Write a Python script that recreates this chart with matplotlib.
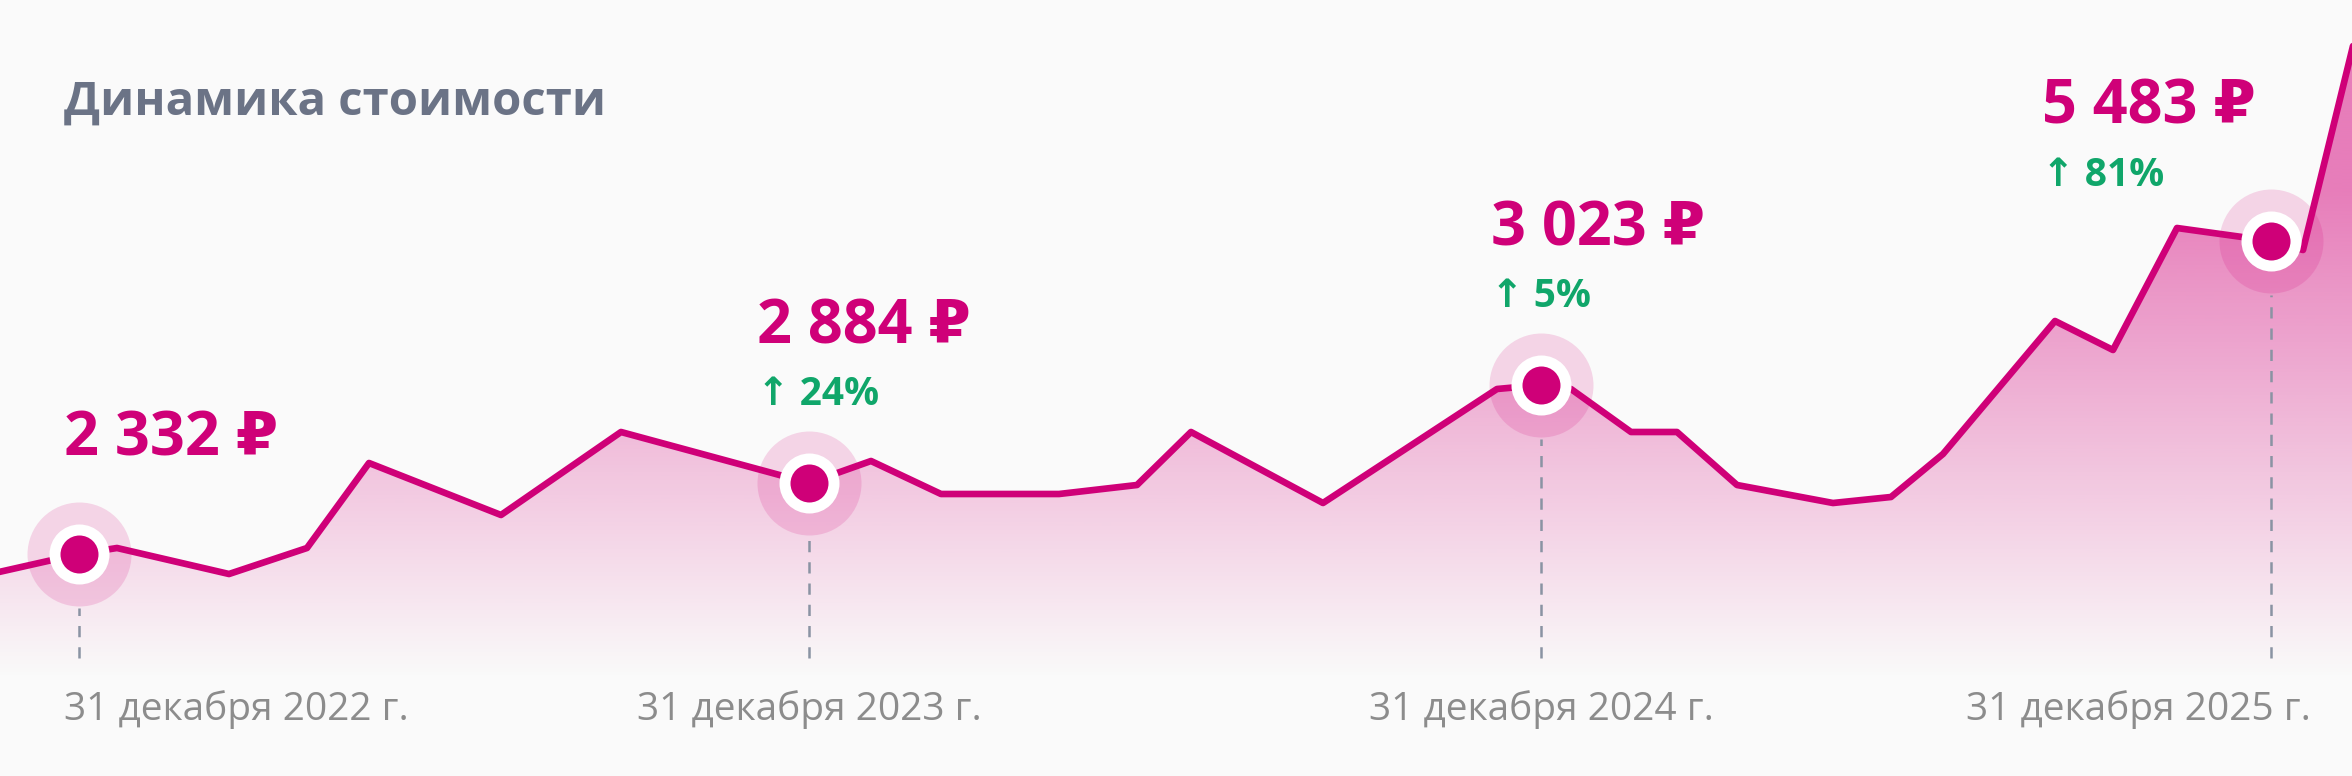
import numpy as np
import matplotlib
matplotlib.use("Agg")
import matplotlib.pyplot as plt
import matplotlib.dates as mdates
import matplotlib.transforms as mtransforms
from matplotlib.colors import to_rgb

plt.rcParams["font.family"] = ["Open Sans", "DejaVu Sans"]

# --- data (index level of the chart line, 0 = base of the fill) ---
dates = np.array([
    "2022-11-21", "2022-12-31", "2023-01-19", "2023-03-16", "2023-04-24", "2023-05-25",
    "2023-07-30", "2023-09-28", "2023-12-31", "2024-01-31", "2024-03-06", "2024-05-04",
    "2024-06-12", "2024-07-09", "2024-09-13", "2024-12-09", "2024-12-31", "2025-01-15",
    "2025-02-14", "2025-03-09", "2025-04-08", "2025-05-26", "2025-06-24", "2025-07-20",
    "2025-09-14", "2025-10-13", "2025-11-14", "2025-12-31", "2026-01-16", "2026-02-10",
], dtype="datetime64[D]")
level = np.array([
    88, 106, 112, 86, 112, 197,
    145, 228, 177, 199, 166, 166,
    175, 228, 157, 271, 275, 271,
    228, 228, 175, 157, 163, 206,
    339, 310, 432, 419, 410, 614,
])

mark_dates = np.array(["2022-12-31", "2023-12-31", "2024-12-31", "2025-12-31"], dtype="datetime64[D]")
mark_level = np.array([106, 177, 275, 419])
mark_price = ["2 332 ₽", "2 884 ₽", "3 023 ₽", "5 483 ₽"]
mark_change = [None, "↑ 24%", "↑ 5%", "↑ 81%"]
mark_label = ["31 декабря 2022 г.", "31 декабря 2023 г.", "31 декабря 2024 г.", "31 декабря 2025 г."]

# --- style ---
BG = "#fafafa"
MAG = "#cf0078"
GREEN = "#10a66a"
TITLE_C = "#6b7386"
DATE_C = "#8c8c8c"
DASH_C = "#8a93a3"

W, H, DPI = 2352, 776, 100
fig = plt.figure(figsize=(W / DPI, H / DPI), dpi=DPI, facecolor=BG)
ax = fig.add_axes([0, 0, 1, 1])
ax.set_facecolor(BG)
ax.axis("off")

x = mdates.date2num(dates)
mx = mdates.date2num(mark_dates)
x0 = mdates.date2num(np.datetime64("2022-12-31")) - 39.5
x1 = x0 + W / 2.0
y0, y1 = -116, 660

# gradient fill under the line
poly = ax.fill_between(x, level, y0, facecolor="none", edgecolor="none")
yy = np.linspace(y0, y1, 400)
alpha = np.clip((yy + 20) * 0.00102, 0, 0.5)
img = np.zeros((len(yy), 1, 4))
img[..., :3] = to_rgb("#d4007a")
img[:, 0, 3] = alpha
im = ax.imshow(img, extent=(x0, x1, y0, y1), origin="lower", aspect="auto",
               interpolation="bilinear", zorder=1)
im.set_clip_path(poly.get_paths()[0], transform=ax.transData)

ax.plot(x, level, color=MAG, lw=4.8, solid_joinstyle="round", solid_capstyle="round", zorder=4)

# markers: halo, white ring, dot
ax.scatter(mx, mark_level, s=(2 * 52 * 0.72) ** 2, color="#d4007a", alpha=0.15,
           linewidths=0, zorder=3)
ax.scatter(mx, mark_level, s=(2 * 30 * 0.72) ** 2, color="white", linewidths=0, zorder=5)
ax.scatter(mx, mark_level, s=(2 * 19 * 0.72) ** 2, color=MAG, linewidths=0, zorder=6)

# dashed drop lines
ax.vlines(mx, 2, mark_level - 54, colors=DASH_C, linestyles=(0, (4.5, 4)), lw=1.8, zorder=2)

# value + change labels (offsets in pixels from the marker)
price_off = [(-15, 99), (-52, 140), (-50, 140), (-229, 117)]
change_off = [None, (-52, 78), (-50, 78), (-229, 55)]
for i in range(len(mx)):
    ax.annotate(mark_price[i], xy=(mx[i], mark_level[i]), xytext=price_off[i],
                textcoords="offset pixels", ha="left", va="baseline",
                fontsize=44, fontweight="bold", color=MAG, zorder=7)
    if mark_change[i]:
        ax.annotate(mark_change[i], xy=(mx[i], mark_level[i]), xytext=change_off[i],
                    textcoords="offset pixels", ha="left", va="baseline",
                    fontsize=28, fontweight="bold", color=GREEN, zorder=7)

# date labels along the bottom
btrans = mtransforms.blended_transform_factory(ax.transData, ax.transAxes)
date_ha = ["left", "center", "center", "right"]
date_dx = [-15, 0, 0, 40]
for i in range(len(mx)):
    ax.annotate(mark_label[i], xy=(mx[i], 0), xycoords=btrans, xytext=(date_dx[i], 56),
                textcoords="offset pixels", ha=date_ha[i], va="baseline",
                fontsize=28, color=DATE_C)

ax.set_xlim(x0, x1)
ax.set_ylim(y0, y1)

fig.text(64 / W, (H - 115) / H, "Динамика стоимости", ha="left", va="baseline",
         fontsize=34, fontweight="bold", color=TITLE_C)

fig.savefig("out.png", dpi=DPI, facecolor=BG)
